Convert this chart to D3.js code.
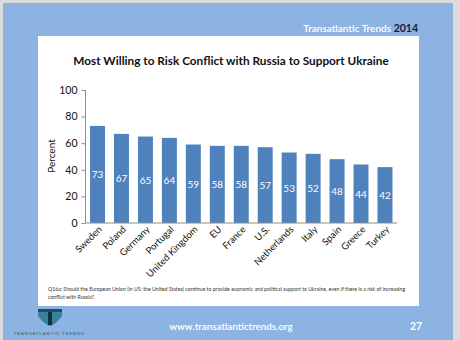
<!DOCTYPE html>
<html><head><meta charset="utf-8">
<script src="https://cdn.jsdelivr.net/npm/d3@7"></script>
<style>body{margin:0;background:#fff}svg{display:block}</style>
</head><body>
<script>
const categories = ["Sweden","Poland","Germany","Portugal","United Kingdom","EU","France","U.S.","Netherlands","Italy","Spain","Greece","Turkey"];
const values = [73,67,65,64,59,58,58,57,53,52,48,44,42];
const yTicks = [0,20,40,60,80,100];
const title = "Most Willing to Risk Conflict with Russia to Support Ukraine";
const yLabel = "Percent";
const footnoteLines = ["Q16a: Should the European Union (in US: the United States) continue to provide economic and political support to Ukraine, even if there is a risk of increasing","conflict with Russia?"];

const W=460,H=340;
const svg=d3.select("body").append("svg").attr("width",W).attr("height",H);
const font="Lato, 'Open Sans', sans-serif";
svg.append("rect").attr("width",W).attr("height",H).attr("fill","#dcdcdc");
svg.append("rect").attr("x",3).attr("y",3).attr("width",450).attr("height",H-3).attr("fill","#8db3e2");
svg.append("rect").attr("x",38).attr("y",36).attr("width",381).attr("height",270).attr("fill","#ffffff");

svg.append("text").attr("x",391).attr("y",32).attr("text-anchor","end").attr("font-family",font)
  .attr("font-size",10).attr("font-weight","600").attr("fill","#ffffff").text("Transatlantic Trends");
svg.append("text").attr("x",418).attr("y",32).attr("text-anchor","end").attr("font-family",font)
  .attr("font-size",10.5).attr("font-weight","bold").attr("fill","#17173f").text("2014");

svg.append("text").attr("x",231).attr("y",65).attr("text-anchor","middle").attr("font-family",font)
  .attr("font-weight","bold").attr("font-size",11.8).attr("fill","#111").text(title);

const x=d3.scaleBand().domain(categories).range([85.5,397]).paddingInner(0.375).paddingOuter(0.19);
const y=d3.scaleLinear().domain([0,100]).range([223,90]);

const ya=svg.append("g").attr("transform","translate(85.5,0)")
  .call(d3.axisLeft(y).tickValues(yTicks).tickSize(4).tickPadding(4));
ya.select(".domain").attr("stroke","#8c8c8c").attr("d","M0,90V223");
ya.selectAll(".tick line").attr("stroke","#8c8c8c");
ya.selectAll("text").attr("font-family",font).attr("font-size",10.5).attr("fill","#111");

svg.append("text").attr("transform","translate(55,156) rotate(-90)").attr("text-anchor","middle")
  .attr("font-family",font).attr("font-size",10).attr("fill","#111").text(yLabel);

svg.append("g").selectAll("rect").data(values).join("rect")
  .attr("x",(d,i)=>x(categories[i])).attr("width",x.bandwidth())
  .attr("y",d=>y(d)).attr("height",d=>y(0)-y(d)).attr("fill","#4f81bd");

svg.append("g").selectAll("text").data(values).join("text")
  .attr("x",(d,i)=>x(categories[i])+x.bandwidth()/2).attr("y",d=>(y(d)+y(0))/2+4)
  .attr("text-anchor","middle").attr("font-family",font).attr("font-size",10).attr("fill","#ffffff").text(d=>d);

const xa=svg.append("g").attr("transform","translate(0,223)").call(d3.axisBottom(x).tickSize(0).tickPadding(0));
xa.select(".domain").attr("stroke","#8c8c8c").attr("d","M85.5,0H397");
xa.selectAll("text").attr("font-family",font).attr("font-size",9.5).attr("fill","#111")
  .attr("text-anchor","end").attr("dy",null).attr("y",0)
  .attr("transform","translate(5,7) rotate(-45)");

const fn=svg.append("text").attr("font-family",font).attr("font-size",5.2).attr("fill","#333");
footnoteLines.forEach((l,i)=>fn.append("tspan").attr("x",48).attr("y",291+i*7.5).text(l));

svg.append("text").attr("x",231).attr("y",330).attr("text-anchor","middle").attr("font-family",font)
  .attr("font-weight","600").attr("font-size",9.8).attr("fill","#ffffff").text("www.transatlantictrends.org");
svg.append("text").attr("x",416).attr("y",330).attr("text-anchor","middle").attr("font-family",font)
  .attr("font-weight","bold").attr("font-size",10.5).attr("fill","#ffffff").text("27");

// logo
const lg=svg.append("g");
lg.append("path").attr("d","M38,310 H62 V316 Q56,324 50,326 Q44,324 38,316 Z").attr("fill","#3a8099");
lg.append("rect").attr("x",48).attr("y",311).attr("width",4).attr("height",14).attr("fill","#0f3345");
lg.append("rect").attr("x",38).attr("y",309).attr("width",24).attr("height",3).attr("fill","#1b4d66");
svg.append("text").attr("x",49).attr("y",335).attr("text-anchor","middle").attr("font-family",font)
  .attr("font-size",4.6).attr("letter-spacing",0.8).attr("fill","#1f5870").text("TRANSATLANTIC TRENDS");
</script>
</body></html>
